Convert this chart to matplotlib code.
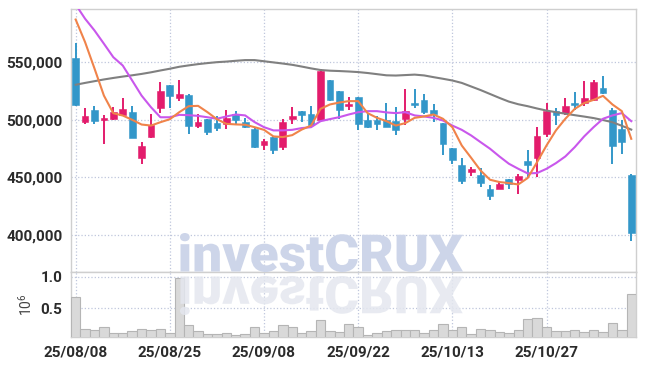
import numpy as np
import matplotlib
matplotlib.use("Agg")
import matplotlib.pyplot as plt
from matplotlib.textpath import TextPath
from matplotlib.patches import PathPatch
from matplotlib.font_manager import FontProperties
from matplotlib.transforms import Affine2D, IdentityTransform

plt.rcParams['font.family'] = ['Liberation Sans Narrow', 'Roboto', 'DejaVu Sans']
plt.rcParams['mathtext.default'] = 'regular'

# daily candles (KRW)
opens = [553800, 497700, 508100, 499400, 500300, 504000, 506400, 466800, 485000, 510400,
         529800, 518500, 521100, 494200, 500600, 496800, 496200, 505200, 497700, 491900,
         478300, 484700, 476300, 500600, 507200, 505200, 500000, 534700, 524600, 511600,
         520200, 500000, 499400, 500000, 498600, 500900, 514500, 517600, 508700, 497100,
         475700, 461000, 454600, 452300, 440200, 439900, 448900, 448000, 463900, 466800,
         487300, 507200, 505800, 514500, 514500, 516800, 527700, 508700, 491900, 451700]
highs = [566500, 510400, 511600, 503800, 511000, 519100, 511600, 480600, 504600, 532700,
         529800, 534700, 522000, 504600, 500600, 503500, 508700, 507500, 501700, 493600,
         483500, 485600, 500600, 511000, 507200, 511600, 544200, 534700, 525400, 519700,
         520200, 505200, 502900, 514500, 511000, 526900, 526900, 522000, 513900, 497100,
         475700, 467100, 459000, 458400, 443100, 446800, 448900, 452600, 474000, 493600,
         514500, 510400, 519100, 523700, 533500, 534100, 537600, 510400, 499400, 452600]
lows = [511600, 496500, 496500, 479200, 500000, 503500, 484400, 461300, 484400, 505800,
        510400, 516200, 487900, 493100, 486700, 490200, 491900, 496000, 493100, 475700,
        474000, 470500, 474000, 496000, 498000, 493600, 499400, 516200, 500900, 508100,
        490800, 493100, 491300, 493600, 486400, 495700, 510400, 504600, 497700, 469100,
        461300, 443900, 450900, 441600, 430600, 439900, 440200, 435300, 450300, 450300,
        485000, 495100, 504300, 508100, 512400, 516200, 522000, 461900, 469900, 394800]
closes = [512700, 503500, 498800, 501700, 506400, 509000, 484400, 476900, 495100, 524600,
          520500, 522000, 494500, 497700, 489000, 492500, 501700, 499400, 493600, 476300,
          481200, 474000, 497700, 503500, 503800, 495100, 542200, 516800, 508100, 513300,
          496000, 493600, 496500, 493600, 491300, 507200, 512700, 506900, 505200, 479200,
          465300, 446800, 457500, 445100, 433800, 443900, 444500, 450900, 460400, 485600,
          507200, 504300, 511600, 512700, 519100, 533200, 523100, 476900, 480600, 401700]

# moving averages
ma5 = [587000, 567400, 544500, 521000, 505700, 503700, 500000, 495900, 495000, 497900,
       500500, 506600, 511800, 512100, 506600, 500500, 496500, 496000, 495700, 493600,
       491300, 485600, 485000, 486700, 491500, 495000, 509500, 513300, 515000, 516200,
       516200, 505800, 501700, 498800, 495000, 497100, 501700, 502900, 504600, 500900,
       493600, 477700, 467000, 456000, 448000, 446000, 445100, 443900, 449500, 463300,
       477700, 490800, 500900, 509500, 514500, 517300, 520800, 513300, 507500, 483500]
ma10 = [600000, 587700, 577500, 566000, 554300, 547100, 534100, 521000, 510900, 502200,
        502200, 504300, 504000, 503400, 502200, 500900, 502900, 504600, 503800, 498000,
        493600, 490800, 490800, 491300, 492800, 493600, 498800, 500600, 502300, 504600,
        506600, 507500, 507500, 506400, 505800, 506600, 503800, 502900, 501700, 499400,
        495000, 491300, 486400, 480600, 474900, 468200, 461900, 457500, 453500, 453800,
        457500, 462400, 468200, 476300, 485600, 493600, 500900, 503800, 505800, 498800]
ma60 = [530400, 532000, 533500, 535000, 536300, 537500, 538600, 539800, 541200, 542800,
        544300, 546000, 547200, 548300, 549200, 550000, 550500, 551200, 551800, 551800,
        550800, 549800, 548800, 547700, 546200, 544600, 543200, 542600, 542300, 541900,
        541400, 540600, 539600, 538600, 538400, 538800, 539200, 538500, 537000, 535600,
        534100, 532000, 528900, 525800, 522400, 519000, 515800, 513500, 511800, 509800,
        508000, 506600, 505300, 504000, 502800, 501500, 499800, 497900, 494800, 491500]

# volume in millions
volume = [0.677, 0.177, 0.161, 0.210, 0.113, 0.113, 0.145, 0.177, 0.161, 0.177,
          0.113, 0.984, 0.242, 0.134, 0.097, 0.097, 0.113, 0.080, 0.097, 0.210,
          0.113, 0.145, 0.242, 0.210, 0.113, 0.145, 0.323, 0.145, 0.129, 0.258,
          0.210, 0.080, 0.113, 0.145, 0.161, 0.161, 0.161, 0.113, 0.161, 0.258,
          0.161, 0.210, 0.097, 0.177, 0.161, 0.129, 0.113, 0.161, 0.339, 0.355,
          0.210, 0.145, 0.145, 0.161, 0.129, 0.161, 0.129, 0.274, 0.161, 0.726]

tick_pos = [0, 10, 20, 30, 40, 50]
tick_labels = ['25/08/08', '25/08/25', '25/09/08', '25/09/22', '25/10/13', '25/10/27']
price_ticks = [400000, 450000, 500000, 550000]

UP = '#e31c6c'
DOWN = '#3397c9'
GRID = '#bfc6dc'
TXT = '#2b2b2b'

fig = plt.figure(figsize=(6.45, 3.66), dpi=100)
ax = fig.add_axes([0.110, 0.257, 0.876, 0.718])
axv = fig.add_axes([0.110, 0.079, 0.876, 0.178], sharex=ax)

x = np.arange(len(opens))
o = np.array(opens); c = np.array(closes)
colors = [UP if cc >= oo else DOWN for oo, cc in zip(o, c)]

ax.vlines(x, lows, highs, colors=colors, linewidth=1.4, zorder=3)
body = np.maximum(np.abs(c - o), 1200)
ax.bar(x, body, bottom=np.minimum(o, c), width=0.72, color=colors,
       edgecolor=colors, linewidth=0.4, zorder=3)

ax.plot(x, ma60, color='#808080', linewidth=1.5, zorder=4)
ax.plot(x, ma10, color='#c957ec', linewidth=1.5, zorder=4)
ax.plot(x, ma5, color='#f0834a', linewidth=1.5, zorder=4)

ax.set_xlim(-0.5, 59.5)
ax.set_ylim(368000, 596000)
ax.set_yticks(price_ticks)
ax.set_yticklabels([f'{v:,}' for v in price_ticks])
ax.set_xticks(tick_pos)
ax.tick_params(axis='x', labelbottom=False)
ax.grid(True, color=GRID, linestyle=':', linewidth=0.9)
ax.set_axisbelow(True)

axv.bar(x, volume, width=1.0, color='#d9d9d9', edgecolor='#b5b5b5', linewidth=0.8, zorder=3)
axv.set_ylim(0.045, 1.08)
axv.set_yticks([0.5, 1.0])
axv.set_yticklabels(['0.5', '1.0'])
axv.set_xticks(tick_pos)
axv.set_xticklabels(tick_labels)
axv.grid(True, color=GRID, linestyle=':', linewidth=0.9)
axv.set_axisbelow(True)
axv.set_ylabel('10$^6$', fontsize=10, color='#444444', labelpad=4)

for a in (ax, axv):
    a.tick_params(length=0, pad=6, labelsize=11, labelcolor=TXT)
    for s in a.spines.values():
        s.set_color('#cfcfcf')
        s.set_linewidth(1.0)
    for lab in a.get_xticklabels() + a.get_yticklabels():
        lab.set_fontweight('bold')

# watermark with reflection
fp = FontProperties(family=['Roboto', 'DejaVu Sans'], weight='black')
tp = TextPath((0, 0), 'investCRUX', size=50, prop=fp)
ext = tp.get_extents()
sx = 283 / ext.width
sy = 39 / ext.height
tr_main = Affine2D().translate(-ext.x0, -ext.y0).scale(sx, sy).translate(180, 94)
tr_refl = Affine2D().translate(-ext.x0, -ext.y0).scale(sx, -sy).translate(180, 90)
fig.add_artist(PathPatch(tr_main.transform_path(tp), transform=IdentityTransform(),
                         facecolor='#cdd5e9', edgecolor='none', zorder=5))
fig.add_artist(PathPatch(tr_refl.transform_path(tp), transform=IdentityTransform(),
                         facecolor='#e4e7ef', edgecolor='none', zorder=5, alpha=0.85))

fig.savefig('out.png', dpi=100)
